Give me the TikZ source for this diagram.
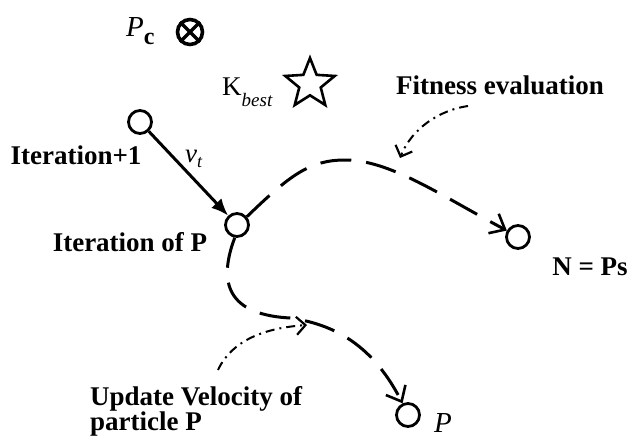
\documentclass[tikz,border=0pt]{standalone}
\usepackage{fontspec}
\setmainfont{Liberation Serif}
\usetikzlibrary{arrows.meta,shapes.geometric}
\begin{document}
\begin{tikzpicture}[x=1pt,y=-1pt,
  dot/.style={circle,draw,line width=2.8pt,minimum size=23pt,inner sep=0pt},
  lbl/.style={font=\fontsize{27}{25}\selectfont\bfseries,inner sep=0pt},
  sym/.style={font=\fontsize{27}{28}\selectfont,inner sep=0pt},
  dasharrow/.style={line width=3pt,dash pattern=on 31pt off 15pt,-{Straight Barb[length=13pt,width=22pt,line width=2.6pt]}},
  dotarrow/.style={line width=2pt,dash pattern=on 9pt off 5pt on 2pt off 5pt,-{Straight Barb[length=9pt,width=18pt,line width=2.2pt]}},
  solidarrow/.style={line width=3pt,-{Latex[length=17pt,width=14pt]}}]
\useasboundingbox (0,0) rectangle (633,439);
% symbols
\node[sym,anchor=base west,font=\fontsize{29}{30}\selectfont] (pc) at (126,36) {\itshape P\upshape\raisebox{-9pt}{\fontsize{24}{26}\selectfont\bfseries c}};
\node[circle,draw,line width=3.6pt,minimum size=25pt,inner sep=0pt] (ot) at (190,32) {};
\draw[line width=3.2pt] (ot.45) -- (ot.225) (ot.135) -- (ot.315);
\node[sym,anchor=base west] (kb) at (222,95) {K\raisebox{-12pt}{\fontsize{19}{20}\selectfont\itshape best}};
\node[star,star points=5,star point ratio=2.3,draw,line width=2.6pt,minimum size=52pt,inner sep=0pt] (st) at (310,84) {};
% particles
\node[dot] (c1) at (140,122) {};
\node[dot] (c2) at (237,225) {};
\node[dot] (cN) at (518,237) {};
\node[dot] (cP) at (408,415) {};
% labels
\node[lbl] (t1) at (76,155) {Iteration+1};
\node[lbl] (t2) at (130,242) {Iteration of P};
\node[lbl] (t3) at (590,267) {N = Ps};
\node[lbl] (t4) at (500,85) {Fitness evaluation};
\node[lbl,align=left,anchor=north west] (t5) at (90,386) {Update Velocity of\\particle P};
\node[sym,anchor=base west] (vt) at (185,162) {\itshape v\raisebox{-5pt}{\fontsize{18}{20}\selectfont t}};
\node[sym,anchor=base west,font=\fontsize{29}{30}\selectfont\itshape] (pl) at (434,432) {P};
% connectors
\draw[solidarrow] (c1) -- (c2);
\draw[dasharrow] (c2.40) .. controls (290,175) and (310,160) .. (345,160) .. controls (390,160) and (440,195) .. (cN.150);
\draw[dasharrow] (c2.260) .. controls (215,290) and (235,315) .. (290,318) .. controls (340,325) and (375,350) .. (cP.115);
\coordinate (fe) at (468,106);
\coordinate (fetip) at (400,158);
\draw[dotarrow] (fe) .. controls (440,110) and (412,128) .. (fetip);
\coordinate (uv) at (218,370);
\coordinate (uvtip) at (307,325);
\draw[dotarrow] (uv) .. controls (232,340) and (265,328) .. (uvtip);
\end{tikzpicture}
\end{document}
